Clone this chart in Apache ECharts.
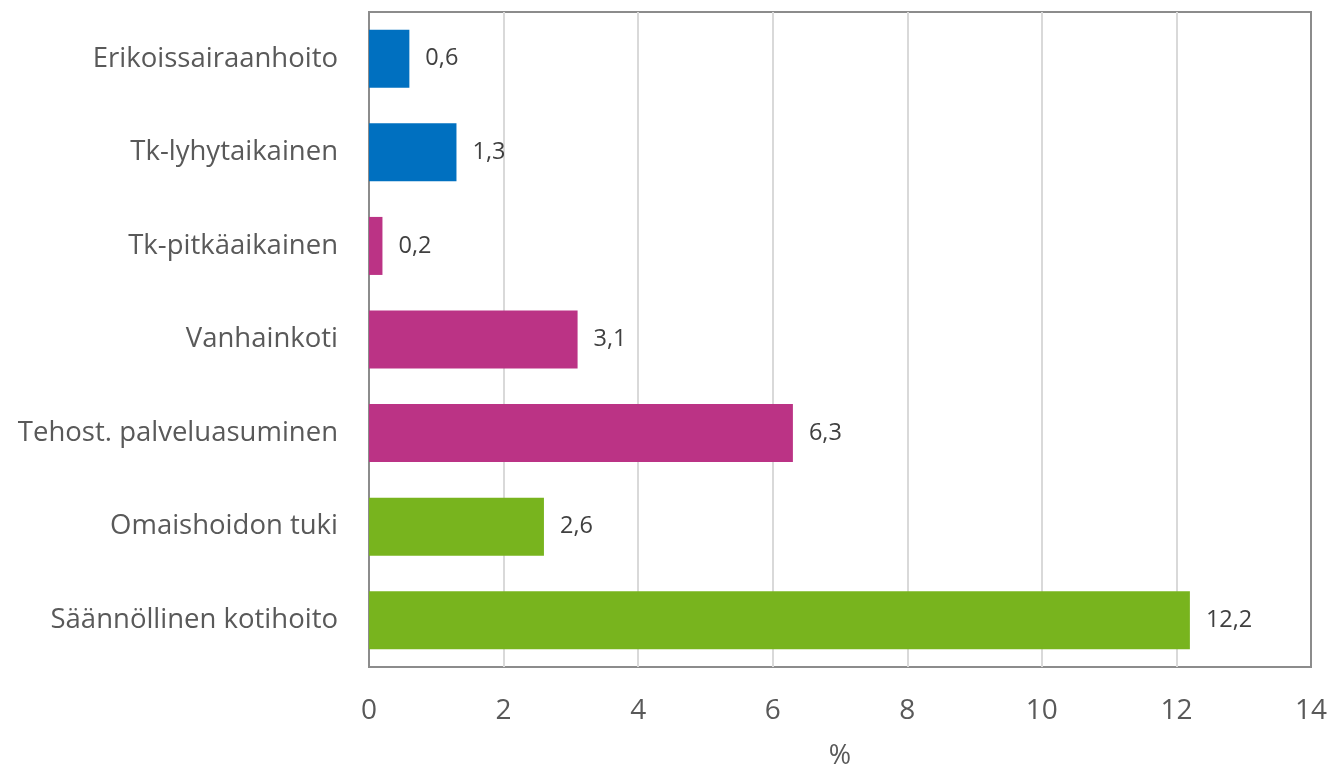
<!DOCTYPE html>
<html>
<head>
<meta charset="utf-8">
<script src="https://cdn.jsdelivr.net/npm/echarts@6/dist/echarts.min.js"></script>
<style>
  html, body { margin: 0; padding: 0; background: #fff; }
  #chart { width: 1329px; height: 766px; }
</style>
</head>
<body>
<div id="chart"></div>
<script>
// Service categories, top to bottom
const categories = [
  'Erikoissairaanhoito',
  'Tk-lyhytaikainen',
  'Tk-pitkäaikainen',
  'Vanhainkoti',
  'Tehost. palveluasuminen',
  'Omaishoidon tuki',
  'Säännöllinen kotihoito'
];
// Share of clients, %
const values = [0.6, 1.3, 0.2, 3.1, 6.3, 2.6, 12.2];
// Group of each category: hospital care, institutional/housing, home care
const groups = [0, 0, 1, 1, 1, 2, 2];
const groupColors = ['#0070C0', '#BB3385', '#78B41E'];
const xTicks = { min: 0, max: 14, interval: 2 };

const chart = echarts.init(document.getElementById('chart'));
chart.setOption({
  animation: false,
  grid: {
    left: 369, right: 18, top: 12, bottom: 99,
    outerBoundsMode: 'none',
    containLabel: false,
    show: true, borderColor: '#8c8c8c', borderWidth: 2
  },
  xAxis: {
    type: 'value',
    min: xTicks.min, max: xTicks.max, interval: xTicks.interval,
    name: '%',
    nameLocation: 'middle',
    nameGap: 76,
    nameTextStyle: { fontFamily: 'Open Sans', fontSize: 27, color: '#595959' },
    axisLine: { show: false },
    axisTick: { show: false },
    axisLabel: { fontFamily: 'Open Sans', fontSize: 28, color: '#595959', margin: 30 },
    splitLine: { showMinLine: false, showMaxLine: false, lineStyle: { color: '#d9d9d9', width: 2 } }
  },
  yAxis: {
    type: 'category',
    data: categories,
    inverse: true,
    axisLine: { show: false },
    axisTick: { show: false },
    axisLabel: { fontFamily: 'Open Sans', fontSize: 27.5, color: '#595959', margin: 31 }
  },
  series: [{
    type: 'bar',
    barWidth: '62%',
    data: values.map((v, i) => ({ value: v, itemStyle: { color: groupColors[groups[i]] } })),
    label: {
      show: true,
      position: 'right',
      distance: 16,
      fontFamily: 'Open Sans',
      fontSize: 23.5,
      color: '#404040',
      formatter: p => String(p.value).replace('.', ',')
    }
  }]
});
</script>
</body>
</html>
